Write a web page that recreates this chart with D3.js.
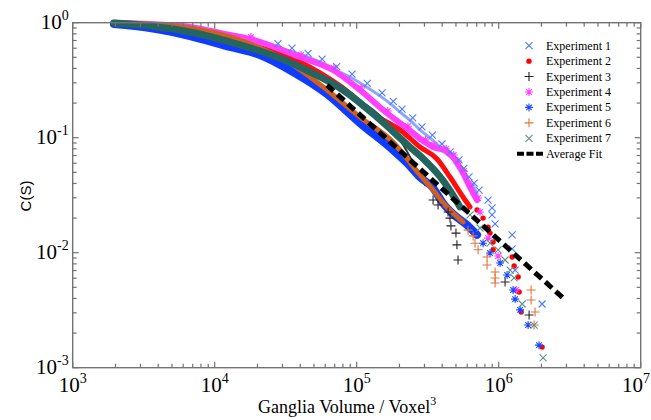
<!DOCTYPE html>
<html>
<head>
<meta charset="utf-8">
<script src="https://cdn.jsdelivr.net/npm/d3@7"></script>
<style>
  body { margin: 0; background: #fff; }
  text { font-family: "Liberation Serif", "Times New Roman", serif; }
</style>
</head>
<body>
<div id="chart"></div>
<script>
// 1. Data: [volume, C(S)] ------------------------------------------------
// dense part of each experiment (drawn as a thick band) and the sparse tail
var exp1Band = [[1950,1.0],[3500,0.994],[6700,0.918],[12800,0.797],[20800,0.680],[27000,0.62],[33900,0.567],[44000,0.51],[55200,0.455],[70000,0.39],[89800,0.337],[115000,0.28],[146000,0.231],[175000,0.195],[202000,0.167],[240000,0.14],[279000,0.117],[330000,0.099],[386000,0.083],[440000,0.071],[508000,0.0603],[550000,0.051],[598000,0.0429],[650000,0.038],[704000,0.0330]];
var exp1Tail = [[842000,0.0287],[898000,0.0245],[898000,0.0213],[943000,0.0178],[1243000,0.0143],[1243000,0.0108],[1305000,0.00707],[2021000,0.00358]];

var exp2Band = [[1950,0.994],[6700,0.864],[12800,0.707],[39900,0.455],[76400,0.282],[146000,0.148],[202000,0.117],[279000,0.083],[368000,0.0653],[454000,0.0455],[561000,0.0305],[628000,0.0250]];
var exp2Tail = [[704000,0.0235],[776000,0.0200],[842000,0.0167],[869000,0.0148],[913000,0.0124],[913000,0.0106],[1243000,0.00918],[1284000,0.00766],[1371000,0.00615],[1393000,0.00455],[1439000,0.00305],[2021000,0.00151]];

var exp3Band = [[1950,0.994],[6700,0.847],[20800,0.556],[64900,0.293],[202000,0.0955],[303000,0.0388]];
var exp3Tail = [[345000,0.0287],[374000,0.0260],[440000,0.0226],[454000,0.0200],[461000,0.0171],[500000,0.0148],[508000,0.0117],[517000,0.00864],[1109000,0.00556],[1637000,0.00287]];

var exp4Band = [[1950,1.0],[3500,0.974],[6700,0.918],[12800,0.782],[17700,0.721],[39900,0.503],[68100,0.388],[105500,0.260],[163000,0.164],[226000,0.121],[300000,0.092],[345000,0.083],[420000,0.077],[475000,0.068],[508000,0.0603],[561000,0.0493],[628000,0.0372],[704000,0.0287]];
var exp4Tail = [[739000,0.0226],[842000,0.0134],[990000,0.00935],[1327000,0.00474]];

var exp5Band = [[1950,0.974],[3500,0.899],[6700,0.766],[12800,0.615],[20800,0.524],[35600,0.373],[61800,0.240],[105500,0.134],[180000,0.0782],[226000,0.0603],[279000,0.0455],[345000,0.0365],[405000,0.0270],[477000,0.0217],[598000,0.0174],[704000,0.0143]];
var exp5Tail = [[776000,0.0121],[869000,0.00993],[1023000,0.00813],[1146000,0.00640],[1263000,0.00474],[1305000,0.00395],[1416000,0.00318],[1611000,0.00235],[1924000,0.00157]];

var exp6Band = [[1950,1.0],[3500,0.974],[6700,0.899],[12800,0.751],[20800,0.603],[33900,0.446],[61800,0.260],[105500,0.151],[180000,0.0918],[279000,0.0474],[345000,0.0351],[419000,0.0260],[492000,0.0213],[561000,0.0185]];
var exp6Tail = [[608000,0.0157],[660000,0.0140],[681000,0.0121],[716000,0.0106],[828000,0.00918],[828000,0.00782],[943000,0.00680],[943000,0.00603],[943000,0.00545],[1691000,0.00474],[1691000,0.00388],[1804000,0.00305],[1775000,0.00235]];

var exp7Band = [[1950,0.994],[3500,0.936],[6700,0.830],[12800,0.680],[27500,0.503],[46900,0.373],[80100,0.260],[139000,0.151],[237000,0.083],[300000,0.064],[380000,0.047],[460000,0.034],[534000,0.0250]];
var exp7Tail = [[628000,0.0213],[739000,0.0164],[869000,0.0121],[990000,0.0106],[1109000,0.00864],[1204000,0.00707],[1284000,0.00603],[1462000,0.00358],[1775000,0.00235],[2054000,0.00122]];

var fitLine = [[61800,0.287],[2840000,0.00404]];

var names = ["Experiment 1","Experiment 2","Experiment 3","Experiment 4","Experiment 5","Experiment 6","Experiment 7"];
var xMajor = [1e3,1e4,1e5,1e6,1e7];
var yMajor = [1e-3,1e-2,1e-1,1e0];

// 2. Set up SVG ----------------------------------------------------------
var svgWidth = 651, svgHeight = 420;
var margin = {top: 22.7, right: 10.3, bottom: 52.3, left: 72.7};
var width = svgWidth - margin.left - margin.right;
var height = svgHeight - margin.top - margin.bottom;

var svg = d3.select("#chart").append("svg")
  .attr("width", svgWidth)
  .attr("height", svgHeight);

var xScale = d3.scaleLog().domain([1e3, 1e7]).range([margin.left, margin.left + width]);
var yScale = d3.scaleLog().domain([1e-3, 1]).range([margin.top + height, margin.top]);

var axisColor = "#737373";

// series styles: marker type, colour of markers, colour of dense band
var series = [
  {band: exp1Band, tail: exp1Tail, mark: "x",    color: "#4f78ff", bandColor: "#8aa6ff", w: 3},
  {band: exp2Band, tail: exp2Tail, mark: "dot",  color: "#ff0000", bandColor: "#ff0d0d", w: 5},
  {band: exp3Band, tail: exp3Tail, mark: "plus", color: "#222222", bandColor: "#333333", w: 2},
  {band: exp4Band, tail: exp4Tail, mark: "star", color: "#ff3cff", bandColor: "#ff40ff", w: 6},
  {band: exp5Band, tail: exp5Tail, mark: "star", color: "#1a48ff", bandColor: "#0f3cff", w: 8},
  {band: exp6Band, tail: exp6Tail, mark: "plus", color: "#e0763a", bandColor: "#cf5f1f", w: 5},
  {band: exp7Band, tail: exp7Tail, mark: "x",    color: "#5f8f8c", bandColor: "#25655f", w: 7}
];

var markPath = {
  x: "M-3.5,-3.5L3.5,3.5M-3.5,3.5L3.5,-3.5",
  plus: "M-4.5,0H4.5M0,-4.5V4.5",
  star: "M-4,0H4M0,-4V4M-2.8,-2.8L2.8,2.8M-2.8,2.8L2.8,-2.8"
};

function drawMark(g, type, color, px, py) {
  if (type === "dot") {
    g.append("circle").attr("cx", px).attr("cy", py).attr("r", 2.7).attr("fill", color);
  } else {
    g.append("path").attr("d", markPath[type])
      .attr("transform", `translate(${px},${py})`)
      .attr("fill", "none").attr("stroke", color).attr("stroke-width", 1.1);
  }
}

// 3. Data ---------------------------------------------------------------
var plot = svg.append("g");
var line = d3.line().x(d => xScale(d[0])).y(d => yScale(d[1])).curve(d3.curveMonotoneX);

// dense bands
series.forEach(s => {
  plot.append("path").datum(s.band)
    .attr("d", line)
    .attr("fill", "none")
    .attr("stroke", s.bandColor)
    .attr("stroke-width", s.w)
    .attr("stroke-linecap", "round")
    .attr("stroke-linejoin", "round");
});

// markers on the upper edge to give it texture
series[3].band.slice(4).forEach(d => drawMark(plot, "star", "#ff3cff", xScale(d[0]) + 1, yScale(d[1]) - 2));
series[0].band.slice(5).forEach(d => drawMark(plot, "x", "#4f78ff", xScale(d[0]) + 2, yScale(d[1]) - 3));

// sparse tails
series.forEach(s => {
  s.tail.forEach(d => drawMark(plot, s.mark, s.color, xScale(d[0]), yScale(d[1])));
});

// average fit
plot.append("path").datum(fitLine)
  .attr("d", d3.line().x(d => xScale(d[0])).y(d => yScale(d[1])))
  .attr("fill", "none")
  .attr("stroke", "#000")
  .attr("stroke-width", 5)
  .attr("stroke-dasharray", "9,5");

// 4. Axes (ticks inward on all four sides) -------------------------------
var axes = svg.append("g").attr("stroke", axisColor);
var x0 = margin.left, x1 = margin.left + width, y0 = margin.top + height, y1 = margin.top;

axes.append("rect").attr("x", x0).attr("y", y1).attr("width", width).attr("height", height)
  .attr("fill", "none").attr("stroke-width", 1.4);

xScale.ticks().forEach(t => {
  var len = xMajor.indexOf(t) >= 0 ? 6 : 4;
  var px = xScale(t);
  axes.append("line").attr("x1", px).attr("x2", px).attr("y1", y0).attr("y2", y0 - len).attr("stroke-width", 1.2);
  axes.append("line").attr("x1", px).attr("x2", px).attr("y1", y1).attr("y2", y1 + len).attr("stroke-width", 1.2);
});
yScale.ticks().forEach(t => {
  var len = yMajor.some(m => Math.abs(m - t) / m < 1e-6) ? 6 : 4;
  var py = yScale(t);
  axes.append("line").attr("x1", x0).attr("x2", x0 + len).attr("y1", py).attr("y2", py).attr("stroke-width", 1.2);
  axes.append("line").attr("x1", x1).attr("x2", x1 - len).attr("y1", py).attr("y2", py).attr("stroke-width", 1.2);
});

// tick labels 10^n (the last one is pulled in so it stays inside the page)
xMajor.forEach((t, i) => {
  var last = i === xMajor.length - 1;
  var txt = svg.append("text")
    .attr("x", last ? svgWidth - 1 : xScale(t)).attr("y", y0 + 24)
    .attr("text-anchor", last ? "end" : "middle")
    .attr("font-size", 21).attr("fill", "#000");
  txt.append("tspan").text("10");
  txt.append("tspan").attr("font-size", 14).attr("dy", -9).text(Math.round(Math.log10(t)));
});
yMajor.forEach(t => {
  var txt = svg.append("text")
    .attr("x", x0 - 4).attr("y", yScale(t) + 6)
    .attr("text-anchor", "end")
    .attr("font-size", 21).attr("fill", "#000");
  txt.append("tspan").text("10");
  txt.append("tspan").attr("font-size", 14).attr("dy", -9).text(Math.round(Math.log10(t)));
});

// axis titles
var xTitle = svg.append("text")
  .attr("x", 258).attr("y", 413)
  .attr("font-size", 18).attr("fill", "#000");
xTitle.append("tspan").text("Ganglia Volume / Voxel");
xTitle.append("tspan").attr("font-size", 12).attr("dy", -8).text("3");

svg.append("text")
  .attr("transform", "translate(31,196) rotate(-90)")
  .attr("text-anchor", "middle")
  .style("font-family", "'Liberation Sans', Arial, sans-serif")
  .attr("font-size", 15).attr("fill", "#000")
  .text("C(S)");

// 5. Legend -------------------------------------------------------------
var legend = svg.append("g");
var rowY = d3.scaleLinear().domain([0, 7]).range([45.7, 153.7]);
series.forEach((s, i) => {
  drawMark(legend, s.mark, s.color, 529, rowY(i));
  legend.append("text").attr("x", 546).attr("y", rowY(i) + 4)
    .attr("font-size", 12).attr("fill", "#000").text(names[i]);
});
legend.append("line")
  .attr("x1", 517).attr("x2", 543).attr("y1", rowY(7)).attr("y2", rowY(7))
  .attr("stroke", "#000").attr("stroke-width", 4).attr("stroke-dasharray", "7,2.5");
legend.append("text").attr("x", 546).attr("y", rowY(7) + 4)
  .attr("font-size", 12).attr("fill", "#000").text("Average Fit");
</script>
</body>
</html>
